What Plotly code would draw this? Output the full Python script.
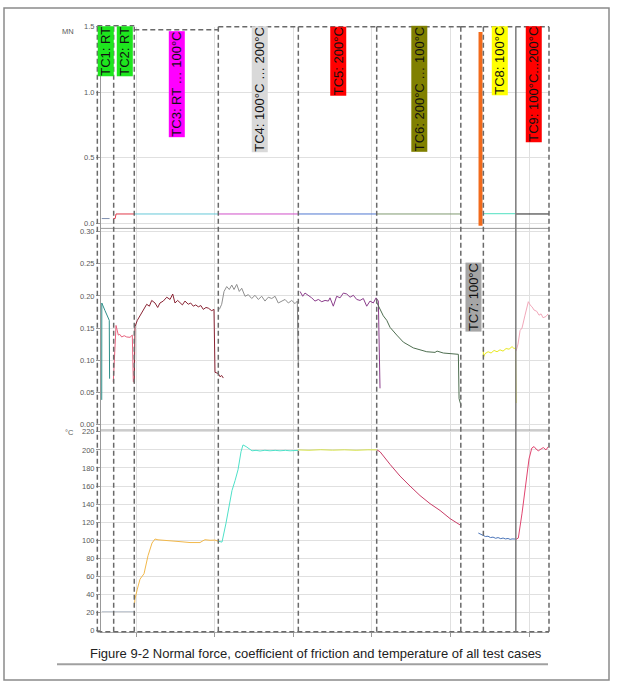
import plotly.graph_objects as go

W, H = 618, 692

# ---------------- data ----------------
x_ticks = [100, 200, 300, 400, 500, 600]
x_range = [55.47, 625.4]

tc_names = ["TC1: RT", "TC2: RT", "TC3: RT … 100°C", "TC4: 100°C … 200°C", "TC5: 200°C",
            "TC6: 200°C … 100°C", "TC7: 100°C", "TC8: 100°C", "TC9: 100°C...200°C"]
tc_bounds = [50.8, 71.6, 97.8, 204.7, 306.5, 406.2, 513.2, 541.9, 583.2, 625.4]
tc_label_colors = ["#1ee61e", "#1ee61e", "#ff00ff", "#d9d9d9", "#ff0000",
                   "#808000", "#a6a6a6", "#ffff00", "#ff0000"]
tc_label_x = [61.2, 85.4, 151.5, 257.1, 357.6, 460.1, 529.4, 563.1, 605.7]

# normal force (MN)
f_tc1_x = [56.4, 66.4]; f_tc1_y = [0.035, 0.035]
f_tc2_x = [71.1, 73.5, 74.6, 97.8]; f_tc2_y = [0.035, 0.035, 0.07, 0.07]
f_tc3_x = [97.8, 204.7]; f_tc3_y = [0.07, 0.07]
f_tc4_x = [204.7, 306.5]; f_tc4_y = [0.07, 0.07]
f_tc5_x = [306.5, 406.2]; f_tc5_y = [0.07, 0.07]
f_tc6_x = [406.2, 513.2]; f_tc6_y = [0.07, 0.07]
f_tc7_x = [538.3, 538.3]; f_tc7_y = [-0.02, 1.46]
f_tc8_x = [541.9, 583.2]; f_tc8_y = [0.072, 0.072]
f_tc9_x = [583.2, 625.4]; f_tc9_y = [0.07, 0.07]

# coefficient of friction
c_tc1_x = [56.4, 56.5, 60.6, 66.0, 66.4]
c_tc1_y = [0.038, 0.189, 0.177, 0.162, 0.071]
c_tc2_x = [71.1, 74.6, 77.5, 79.5, 81.8, 85.0, 88.2, 92.4, 95.3, 96.6]
c_tc2_y = [0.066, 0.154, 0.139, 0.140, 0.136, 0.138, 0.136, 0.1355, 0.139, 0.066]
c_tc3_x = [97.8, 98.7, 101.7, 105.1, 109.3, 113.6, 117.0, 120.0, 124.2, 127.6, 130.5,
           134.7, 139.1, 143.3, 146.7, 149.6, 153.0, 156.0, 159.0, 162.3, 166.5, 169.5,
           172.9, 176.0, 179.3, 182.5, 185.6, 189.0, 192.0, 196.3, 199.2, 200.5, 204.7,
           206.9, 209.0, 211.1]
c_tc3_y = [0.0635, 0.152, 0.162, 0.169, 0.179, 0.187, 0.184, 0.193, 0.189, 0.182, 0.189,
           0.192, 0.198, 0.1945, 0.203, 0.189, 0.193, 0.189, 0.186, 0.192, 0.187, 0.189,
           0.184, 0.186, 0.183, 0.185, 0.179, 0.182, 0.181, 0.177, 0.179, 0.081, 0.079,
           0.074, 0.076, 0.072]
c_tc4_x = [206.0, 209.0, 212.0, 215.4, 218.7, 221.8, 224.7, 228.1, 231.4, 234.5, 238.7,
           242.9, 247.2, 251.4, 255.6, 259.9, 264.1, 268.3, 272.7, 276.9, 281.0, 285.4,
           289.6, 293.8, 298.1, 302.3, 305.2, 306.5]
c_tc4_y = [0.179, 0.187, 0.207, 0.2146, 0.21, 0.217, 0.21, 0.218, 0.207, 0.212, 0.1995,
           0.202, 0.196, 0.201, 0.1945, 0.1995, 0.192, 0.198, 0.196, 0.1995, 0.189, 0.192,
           0.1945, 0.189, 0.193, 0.188, 0.192, 0.091]
c_tc5_x = [308.7, 312.1, 315.0, 319.2, 323.5, 327.7, 332.0, 336.3, 340.5, 344.7, 346.8,
           351.0, 355.3, 359.6, 363.8, 368.1, 372.3, 376.5, 380.8, 385.0, 389.2, 393.5,
           397.7, 401.9, 405.4, 408.3, 410.4]
c_tc5_y = [0.207, 0.1995, 0.2045, 0.201, 0.197, 0.192, 0.1945, 0.191, 0.193, 0.192, 0.197,
           0.184, 0.1995, 0.197, 0.2045, 0.203, 0.198, 0.201, 0.1945, 0.193, 0.196, 0.184,
           0.192, 0.189, 0.197, 0.192, 0.056]
c_tc6_x = [406.2, 410.4, 414.6, 419.0, 423.2, 431.7, 440.1, 452.8, 469.9, 480.4, 483.0,
           491.0, 499.5, 510.1, 511.0, 513.5]
c_tc6_y = [0.19, 0.179, 0.169, 0.162, 0.151, 0.139, 0.128, 0.119, 0.113, 0.112, 0.114,
           0.111, 0.110, 0.109, 0.04, 0.029]
c_tc8_x = [541.9, 541.9, 544.0, 547.9, 551.7, 555.5, 559.3, 563.1, 566.9, 570.8, 574.6,
           578.4, 580.9, 582.8, 583.5]
c_tc8_y = [0.119, 0.104, 0.11, 0.113, 0.111, 0.115, 0.113, 0.116, 0.114, 0.118, 0.117,
           0.121, 0.118, 0.119, 0.033]
c_tc9_x = [583.5, 586.0, 588.6, 591.1, 594.9, 599.1, 601.3, 603.8, 606.4, 609.8, 612.7,
           615.3, 617.8, 621.6, 624.2]
c_tc9_y = [0.114, 0.125, 0.146, 0.150, 0.170, 0.191, 0.186, 0.183, 0.178, 0.176, 0.170,
           0.172, 0.166, 0.168, 0.172]

# temperature (°C)
t_tc12_x = [56.4, 66.4, 71.1, 97.8]
t_tc12_y = [21, 21, 20.5, 21]
t_tc3_x = [97.8, 98.7, 101.7, 105.1, 110.2, 115.3, 120.4, 124.2, 128.0, 133.1, 143.3, 156.0,
           168.7, 177.6, 181.4, 185.2, 187.8, 194.2, 200.5, 204.3]
t_tc3_y = [26.5, 35, 46, 57, 63, 83, 97, 101.4, 100.5, 100, 99.5, 98.5, 97.5, 97, 97.5,
           99.5, 100.6, 100, 100.2, 99]
t_tc4_x = [204.3, 209.4, 214.5, 218.3, 222.1, 226.0, 229.8, 233.6, 236.1, 240.0, 243.8,
           247.6, 252.7, 257.8, 264.0, 270.5, 277.0, 283.2, 290.0, 296.0, 306.2]
t_tc4_y = [99, 98, 119, 138, 155, 166, 178, 198, 205.5, 203.7, 201, 199, 199.5, 198.8,
           199.6, 199, 199.5, 199, 199.5, 199, 199.5]
t_tc5_x = [306.2, 320.0, 335.0, 350.0, 365.0, 380.0, 395.0, 406.6]
t_tc5_y = [200, 199.6, 200.2, 199.7, 200.1, 199.6, 200.1, 200]
t_tc6_x = [406.6, 410.4, 423.2, 435.9, 448.6, 461.3, 474.1, 486.8, 499.5, 512.2]
t_tc6_y = [200, 198, 184, 171, 160, 149.5, 140.5, 133, 124, 117]
t_tc78_x = [535.5, 539.0, 541.5, 544.5, 547.8, 551.0, 554.2, 557.5, 560.6, 564.0, 567.0,
            570.0, 573.3, 576.0, 578.4, 582.2]
t_tc78_y = [108, 106.5, 105.8, 104.2, 104.5, 103.0, 103.5, 102.2, 103, 101.8, 102.5,
            101.5, 102, 101.0, 101.5, 101.4]
t_tc9_x = [583.5, 586.4, 591.1, 597.1, 600.0, 603.5, 606.4, 608.9, 611.8, 615.3, 618.2,
           621.6, 624.6]
t_tc9_y = [101, 102.5, 130, 173, 190, 202, 203.7, 201, 199, 201, 202.6, 200, 203.7]

# ---------------- layout geometry (pixels) ----------------
PX_L, PX_R = 101, 549
PY_TOP, PY_S1, PY_S2, PY_BOT = 23, 227, 431, 635


def pxx(p):
    return p / W


def pxy(p):
    return 1 - p / H


xdom = [pxx(PX_L), pxx(PX_R)]


def xpaper(v):
    return xdom[0] + (v - x_range[0]) / (x_range[1] - x_range[0]) * (xdom[1] - xdom[0])


fig = go.Figure()


def add(xs, ys, color, yaxis, width=1.0):
    fig.add_trace(go.Scatter(x=xs, y=ys, mode="lines", xaxis="x", yaxis=yaxis,
                             line=dict(color=color, width=width), hoverinfo="skip",
                             showlegend=False))


# top: force
add(f_tc1_x, f_tc1_y, "#8090b0", "y3")
add(f_tc2_x, f_tc2_y, "#e03a4a", "y3")
add(f_tc3_x, f_tc3_y, "#66c8d8", "y3")
add(f_tc4_x, f_tc4_y, "#d050c8", "y3")
add(f_tc5_x, f_tc5_y, "#5078d0", "y3")
add(f_tc6_x, f_tc6_y, "#7f9a70", "y3")
add(f_tc8_x, f_tc8_y, "#50e0c0", "y3")
add(f_tc9_x, f_tc9_y, "#202020", "y3")
add(f_tc7_x, f_tc7_y, "#f26a1b", "y3", width=4)

# middle: COF
add(c_tc1_x, c_tc1_y, "#2f8f8a", "y2")
add(c_tc2_x, c_tc2_y, "#e8607c", "y2")
add(c_tc3_x, c_tc3_y, "#8a2434", "y2")
add(c_tc4_x, c_tc4_y, "#8f8f8f", "y2")
add(c_tc5_x, c_tc5_y, "#8b3d8b", "y2")
add(c_tc6_x, c_tc6_y, "#4e6e50", "y2")
add(c_tc8_x, c_tc8_y, "#e8e820", "y2")
add(c_tc9_x, c_tc9_y, "#f2a8ba", "y2")

# bottom: temperature
add(t_tc12_x, t_tc12_y, "#b8c0cc", "y")
add(t_tc3_x, t_tc3_y, "#f2b84a", "y")
add(t_tc4_x, t_tc4_y, "#4ee0c8", "y")
add(t_tc5_x, t_tc5_y, "#d6e24c", "y")
add(t_tc6_x, t_tc6_y, "#c83c66", "y")
add(t_tc78_x, t_tc78_y, "#4a74b8", "y")
add(t_tc9_x, t_tc9_y, "#e0456f", "y")

tickfont = dict(family="Liberation Sans, Arial", size=7.5, color="#5a5a5a")
yax_common = dict(showgrid=True, gridcolor="#e0e0e0", gridwidth=1, zeroline=False,
                  showline=True, linecolor="#999", linewidth=1, ticks="outside",
                  ticklen=4, tickcolor="#999", tickfont=tickfont, anchor="x")

shapes = []
DASH = dict(color="#6a6a6a", width=1.5, dash="5px,3px")
# page frame
shapes.append(dict(type="rect", xref="paper", yref="paper", x0=pxx(4), x1=pxx(609),
                   y0=pxy(684), y1=pxy(4), line=dict(color="#8a8a8a", width=1.5)))
# panel separators
for py in (PY_S1, PY_S2):
    shapes.append(dict(type="line", xref="paper", yref="paper", x0=xdom[0], x1=xdom[1],
                       y0=pxy(py), y1=pxy(py), line=dict(color="#9a9a9a", width=1)))
# test-case boxes: each boundary drawn once
box_tops = [22, 22, 26, 23, 23, 23, 23, 23, 23]
for i, b in enumerate(tc_bounds):
    if i == 8:
        continue
    tops = []
    if i > 0:
        tops.append(box_tops[i - 1])
    if i < 9:
        tops.append(box_tops[i])
    shapes.append(dict(type="line", xref="paper", yref="paper",
                       x0=xpaper(b), x1=xpaper(b), y0=pxy(PY_BOT), y1=pxy(min(tops)),
                       line=DASH))
for i in range(9):
    shapes.append(dict(type="line", xref="paper", yref="paper",
                       x0=xpaper(tc_bounds[i]), x1=xpaper(tc_bounds[i + 1]),
                       y0=pxy(box_tops[i]), y1=pxy(box_tops[i]), line=DASH))
shapes.append(dict(type="line", xref="paper", yref="paper",
                   x0=xpaper(tc_bounds[0]), x1=xpaper(tc_bounds[9]),
                   y0=pxy(PY_BOT), y1=pxy(PY_BOT), line=DASH))
shapes.append(dict(type="line", xref="paper", yref="paper",
                   x0=xpaper(tc_bounds[8]), x1=xpaper(tc_bounds[8]),
                   y0=pxy(PY_BOT), y1=pxy(23), line=dict(color="#7a7a7a", width=1.5)))
# caption underline
shapes.append(dict(type="line", xref="paper", yref="paper", x0=pxx(57), x1=pxx(548),
                   y0=pxy(668), y1=pxy(668), line=dict(color="#a0a0a0", width=2)))

annotations = []
label_tops = [22, 22, 27, 22, 22, 22, None, 22, 22]
for i in range(9):
    a = dict(x=tc_label_x[i], xref="x", yref="paper", text=tc_names[i], textangle=-90,
             showarrow=False, bgcolor=tc_label_colors[i], borderpad=0, xanchor="center",
             font=dict(family="Liberation Sans, Arial", size=13, color="#111"))
    if label_tops[i] is None:
        a.update(y=pxy(297), yanchor="middle")
    else:
        a.update(y=pxy(label_tops[i]), yanchor="top")
    annotations.append(a)

small = dict(family="Liberation Sans, Arial", size=7.5, color="#5a5a5a")
annotations.append(dict(x=pxx(68), y=pxy(28), xref="paper", yref="paper", text="MN",
                        xanchor="center", yanchor="middle", showarrow=False, font=small))
annotations.append(dict(x=pxx(69), y=pxy(434), xref="paper", yref="paper", text="°C",
                        xanchor="center", yanchor="middle", showarrow=False, font=small))
annotations.append(dict(x=pxx(316), y=pxy(657), xref="paper", yref="paper",
                        xanchor="center", yanchor="middle",
                        text="Figure 9-2 Normal force, coefficient of friction and temperature of all test cases",
                        showarrow=False, font=dict(family="Liberation Sans, Arial", size=13,
                                                   color="#222")))

fig.update_layout(
    width=W, height=H, margin=dict(l=0, r=0, t=0, b=0),
    paper_bgcolor="white", plot_bgcolor="white", showlegend=False,
    xaxis=dict(domain=xdom, range=x_range, tickvals=x_ticks, showticklabels=False,
               ticks="outside", ticklen=4, tickcolor="#999", showgrid=True,
               gridcolor="#e0e0e0", zeroline=False, showline=True, linecolor="#aaa",
               anchor="y"),
    yaxis=dict(domain=[pxy(PY_BOT), pxy(PY_S2)], range=[-1.1, 222.0],
               tickvals=list(range(0, 221, 20)), **yax_common),
    yaxis2=dict(domain=[pxy(PY_S2), pxy(PY_S1)], range=[-0.0090, 0.3053],
                tickvals=[0, 0.05, 0.10, 0.15, 0.20, 0.25, 0.30], tickformat=".2f",
                **yax_common),
    yaxis3=dict(domain=[pxy(PY_S1), pxy(PY_TOP)], range=[-0.04, 1.5],
                tickvals=[0, 0.5, 1.0, 1.5], tickformat=".1f", **yax_common),
    shapes=shapes, annotations=annotations,
)

fig.write_html("out.html")
